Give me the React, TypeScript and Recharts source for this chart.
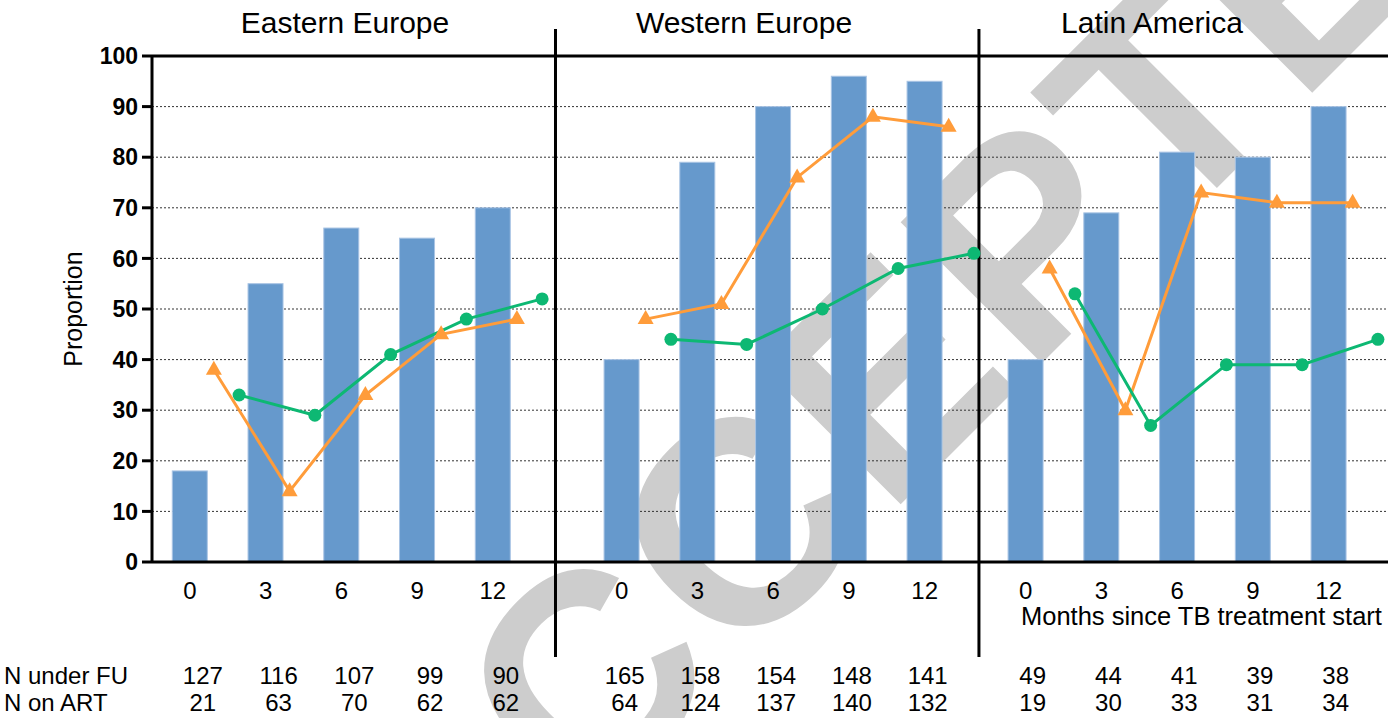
import React from 'react';
import { ComposedChart, Bar, Line, XAxis, YAxis, CartesianGrid, ReferenceLine } from 'recharts';

if (typeof document !== 'undefined') document.body.style.margin = '0';

const FONT = '"Liberation Sans", Arial, sans-serif';
const BLUE = '#6699CC';
const ORANGE = '#FF9C3A';
const GREEN = '#0DB873';

const regions = ['Eastern Europe', 'Western Europe', 'Latin America'];
const months = [0, 3, 6, 9, 12];
const yTicks = [0, 10, 20, 30, 40, 50, 60, 70, 80, 90, 100];

// bars: proportion on ART
const barEastern = [18, 55, 66, 64, 70];
const barWestern = [40, 79, 90, 96, 95];
const barLatin = [40, 69, 81, 80, 90];

// orange line (triangles)
const triEastern = [38, 14, 33, 45, 48];
const triWestern = [48, 51, 76, 88, 86];
const triLatin = [58, 30, 73, 71, 71];

// green line (circles)
const dotEastern = [33, 29, 41, 48, 52];
const dotWestern = [44, 43, 50, 58, 61];
const dotLatin = [53, 27, 39, 39, 44];

const underFUEastern = [127, 116, 107, 99, 90];
const underFUWestern = [165, 158, 154, 148, 141];
const underFULatin = [49, 44, 41, 39, 38];
const onARTEastern = [21, 63, 70, 62, 62];
const onARTWestern = [64, 124, 137, 140, 132];
const onARTLatin = [19, 30, 33, 31, 34];

// layout of the three blocks on one shared month axis
const PANEL_START = [0, 17.1, 33.1];
const DIVIDERS = [14.48, 31.25];
const X_DOMAIN = [-1.5, 47.45];
const TRI_SHIFT = 0.95;
const DOT_SHIFT = 1.95;
const COUNT_SHIFT = [13, 3, 7];

const bars = [barEastern, barWestern, barLatin];
const tris = [triEastern, triWestern, triLatin];
const dots = [dotEastern, dotWestern, dotLatin];
const underFU = [underFUEastern, underFUWestern, underFULatin];
const onART = [onARTEastern, onARTWestern, onARTLatin];

const rows: any[] = [];
regions.forEach((_, p) => {
  months.forEach((m, i) => {
    rows.push({ x: PANEL_START[p] + m, bar: bars[p][i] });
    rows.push({ x: PANEL_START[p] + m + TRI_SHIFT, ['tri' + p]: tris[p][i] });
    rows.push({ x: PANEL_START[p] + m + DOT_SHIFT, ['dot' + p]: dots[p][i] });
  });
});
rows.sort((a, b) => a.x - b.x);

const xTicks = regions.flatMap((_, p) => months.map((m) => PANEL_START[p] + m));

const BarShape = (props: any) => {
  const { x, y, width, height } = props;
  if (height == null || !(height > 0)) return null;
  const cx = x + width / 2;
  return <rect x={cx - 17.5} y={y} width={35} height={height} fill={BLUE} stroke="#A9C4E4" strokeWidth={1} />;
};

const Triangle = (props: any) => {
  const { cx, cy, index } = props;
  if (cx == null || cy == null || props.value == null) return <g key={'t' + index} />;
  return <polygon key={'t' + index} points={`${cx},${cy - 9} ${cx + 8},${cy + 5} ${cx - 8},${cy + 5}`} fill={ORANGE} />;
};

const Circle = (props: any) => {
  const { cx, cy, index } = props;
  if (cx == null || cy == null || props.value == null) return <g key={'c' + index} />;
  return <circle key={'c' + index} cx={cx} cy={cy} r={6.5} fill={GREEN} />;
};

const MonthTick = (props: any) => {
  const { x, y, payload } = props;
  const v = payload.value;
  const p = v < DIVIDERS[0] ? 0 : v < DIVIDERS[1] ? 1 : 2;
  const i = months.indexOf(Math.round(v - PANEL_START[p]));
  if (i < 0) return null;
  const cx = x + COUNT_SHIFT[p];
  return (
    <g fontFamily={FONT} fill="#000">
      <text x={x} y={y + 37} textAnchor="middle" fontSize={24}>{months[i]}</text>
      <text x={cx} y={y + 122} textAnchor="middle" fontSize={24}>{underFU[p][i]}</text>
      <text x={cx} y={y + 149} textAnchor="middle" fontSize={24}>{onART[p][i]}</text>
    </g>
  );
};

const Divider = (props: any) => {
  const top = Math.min(props.y1, props.y2);
  const bottom = Math.max(props.y1, props.y2);
  return <line x1={props.x1} x2={props.x2} y1={top - 27} y2={bottom + 95} stroke="#000" strokeWidth={3} />;
};

export default function App() {
  return (
    <div style={{ position: 'relative', width: 1388, height: 718, background: '#fff', overflow: 'hidden' }}>
      <svg width={1388} height={718} style={{ position: 'absolute', left: 0, top: 0 }}>
        <text
          x={430}
          y={975}
          transform="rotate(-45 430 975)"
          fontSize={290}
          fontWeight="bold"
          fill="#CDCDCD"
          letterSpacing={6}
          fontFamily={FONT}
        >
          ACCEPTED
        </text>
      </svg>
      <div style={{ position: 'absolute', left: 0, top: 0 }}>
        <ComposedChart width={1388} height={718} data={rows} margin={{ top: 56, right: 0, bottom: 0, left: 50 }}>
          <CartesianGrid vertical={false} stroke="#333" strokeDasharray="2 2" />
          <XAxis
            dataKey="x"
            type="number"
            domain={X_DOMAIN}
            allowDataOverflow
            ticks={xTicks}
            interval={0}
            height={156}
            tickSize={0}
            tickMargin={0}
            tickLine={false}
            axisLine={{ stroke: '#000', strokeWidth: 3 }}
            tick={<MonthTick />}
          />
          <YAxis
            domain={[0, 100]}
            ticks={yTicks}
            interval={0}
            width={102}
            tickSize={10}
            tickMargin={4}
            tickLine={{ stroke: '#000', strokeWidth: 3 }}
            axisLine={{ stroke: '#000', strokeWidth: 3 }}
            tick={{ fontSize: 23, fontWeight: 'bold', fill: '#000', fontFamily: FONT }}
            label={{
              value: 'Proportion',
              angle: -90,
              position: 'insideLeft',
              offset: 23,
              style: { textAnchor: 'middle', fontSize: 25, fill: '#000', fontFamily: FONT },
            }}
          />
          <ReferenceLine y={100} stroke="#000" strokeWidth={3} />
          {DIVIDERS.map((d) => (
            <ReferenceLine key={d} x={d} shape={<Divider />} />
          ))}
          <Bar dataKey="bar" shape={<BarShape />} isAnimationActive={false} />
          {regions.map((_, p) => (
            <Line
              key={'tri' + p}
              dataKey={'tri' + p}
              stroke={ORANGE}
              strokeWidth={3}
              connectNulls
              dot={(d: any) => <Triangle key={'t' + p + '-' + d.index} {...d} />}
              activeDot={false}
              isAnimationActive={false}
            />
          ))}
          {regions.map((_, p) => (
            <Line
              key={'dot' + p}
              dataKey={'dot' + p}
              stroke={GREEN}
              strokeWidth={3}
              connectNulls
              dot={(d: any) => <Circle key={'c' + p + '-' + d.index} {...d} />}
              activeDot={false}
              isAnimationActive={false}
            />
          ))}
        </ComposedChart>
      </div>
      <svg width={1388} height={718} style={{ position: 'absolute', left: 0, top: 0, pointerEvents: 'none' }} fontFamily={FONT}>
        <text x={345} y={33} textAnchor="middle" fontSize={30}>{regions[0]}</text>
        <text x={744} y={33} textAnchor="middle" fontSize={30}>{regions[1]}</text>
        <text x={1152} y={33} textAnchor="middle" fontSize={30}>{regions[2]}</text>
        <text x={1021} y={625} fontSize={25.5}>Months since TB treatment start</text>
        <text x={4} y={684} fontSize={24}>N under FU</text>
        <text x={4} y={711} fontSize={24}>N on ART</text>
      </svg>
    </div>
  );
}
